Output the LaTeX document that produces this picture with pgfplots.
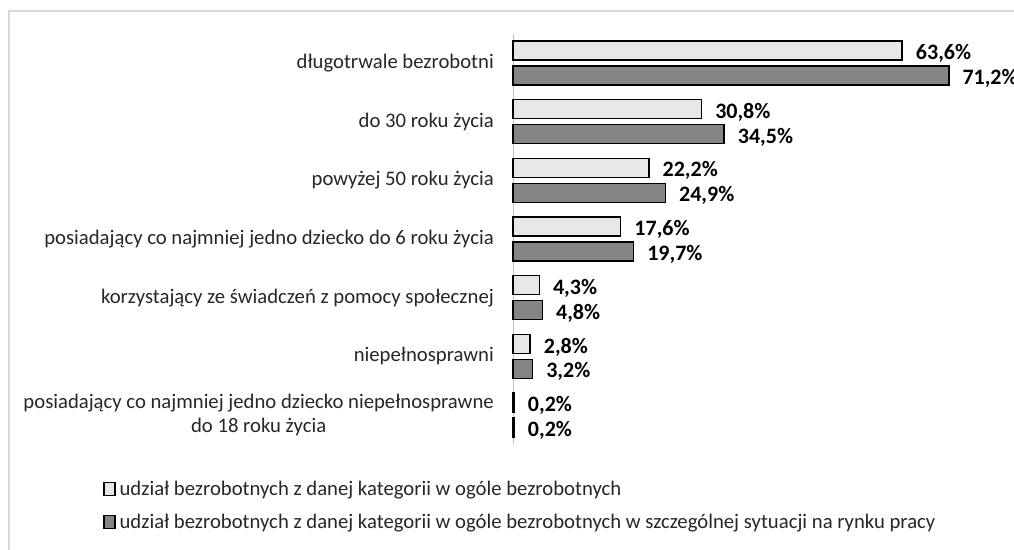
\documentclass[border=0pt]{standalone}
\usepackage{fontspec}
\setmainfont{Carlito}
\usepackage{pgfplots}
\pgfplotsset{compat=1.18}
\definecolor{lightbar}{RGB}{231,231,231}
\definecolor{darkbar}{RGB}{132,132,132}
\newcommand{\lblfont}{\fontsize{20.7bp}{24bp}\selectfont}
\newcommand{\vfont}{\bfseries\fontsize{22bp}{26bp}\selectfont}
\begin{document}
\begin{tikzpicture}[x=1bp,y=1bp]
\clip (0,0) rectangle (1014,-550);
\draw[black!15, line width=1.5bp] (9,-560) -- (9,-11) -- (1030,-11);
\begin{axis}[
  at={(513bp,-33.7bp)}, anchor=north west,
  scale only axis, width=489.6bp, height=410.7bp,
  xbar, xmin=0, xmax=80,
  ymin=-0.5, ymax=6.5, y dir=reverse,
  ytick={0,...,6},
  yticklabels={długotrwale bezrobotni, do 30 roku życia, powyżej 50 roku życia,
    posiadający co najmniej jedno dziecko do 6 roku życia,
    korzystający ze świadczeń z pomocy społecznej, niepełnosprawni,
    {posiadający co najmniej jedno dziecko niepełnosprawne\\do 18 roku życia}},
  yticklabel style={font=\lblfont, text=black!85, align=center, inner sep=0pt, xshift=-19bp},
  axis x line=none, axis y line*=left,
  y axis line style={draw=black!25, line width=1bp, -},
  major tick length=0,
  bar width=19bp,
  clip=false,
  point meta=x,
  /pgf/number format/assume math mode=true,
  nodes near coords={\pgfmathprintnumber[use comma,fixed,fixed zerofill,precision=1]{\pgfplotspointmeta}\%},
  nodes near coords style={font=\vfont, inner sep=1bp, xshift=12bp, yshift=-3bp, anchor=west},
  legend cell align=left,
  legend style={at={(-0.8374,-0.0867)}, anchor=north west, draw=none, fill=none,
    font=\lblfont, text=black!85, inner sep=0pt, row sep=15bp,
    nodes={inner sep=1bp}},
  legend image code/.code={\draw[#1, line width=1.4bp] (0bp,-6.5bp) rectangle (11bp,6.5bp);},
  /tikz/every odd column/.append style={column sep=3bp},
]
\addplot[fill=lightbar, draw=black, line width=1.5bp, bar shift=12.5bp]
  coordinates {(63.6,0) (30.8,1) (22.2,2) (17.6,3) (4.3,4) (2.8,5) (0.2,6)};
\addplot[fill=darkbar, draw=black, line width=1.5bp, bar shift=-12.5bp]
  coordinates {(71.2,0) (34.5,1) (24.9,2) (19.7,3) (4.8,4) (3.2,5) (0.2,6)};
\legend{udział bezrobotnych z danej kategorii w ogóle bezrobotnych,
  udział bezrobotnych z danej kategorii w ogóle bezrobotnych w szczególnej sytuacji na rynku pracy}
\end{axis}
\end{tikzpicture}
\end{document}
